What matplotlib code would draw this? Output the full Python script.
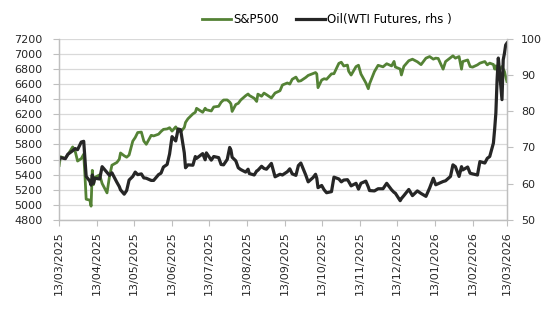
import pandas as pd
import matplotlib
matplotlib.use('Agg')
import matplotlib.pyplot as plt
import matplotlib.dates as mdates

# S&P500 (lhs) and WTI oil futures (rhs)
dates = ['2025-03-13', '2025-03-14', '2025-03-18', '2025-03-20', '2025-03-24', '2025-03-26',
         '2025-03-28', '2025-03-31', '2025-04-02', '2025-04-03', '2025-04-04', '2025-04-07',
         '2025-04-08', '2025-04-09', '2025-04-10', '2025-04-11', '2025-04-15', '2025-04-17',
         '2025-04-21', '2025-04-23', '2025-04-25', '2025-04-29', '2025-05-01', '2025-05-02',
         '2025-05-05', '2025-05-07', '2025-05-09', '2025-05-12', '2025-05-14', '2025-05-16',
         '2025-05-19', '2025-05-21', '2025-05-23', '2025-05-27', '2025-05-29', '2025-06-02',
         '2025-06-04', '2025-06-06', '2025-06-09', '2025-06-11', '2025-06-13', '2025-06-16',
         '2025-06-18', '2025-06-20', '2025-06-23', '2025-06-24', '2025-06-26', '2025-06-30',
         '2025-07-02', '2025-07-03', '2025-07-08', '2025-07-10', '2025-07-11', '2025-07-15',
         '2025-07-17', '2025-07-21', '2025-07-23', '2025-07-25', '2025-07-28', '2025-07-30',
         '2025-07-31', '2025-08-01', '2025-08-04', '2025-08-06', '2025-08-08', '2025-08-12',
         '2025-08-14', '2025-08-15', '2025-08-19', '2025-08-21', '2025-08-22', '2025-08-25',
         '2025-08-27', '2025-08-29', '2025-09-02', '2025-09-05', '2025-09-09', '2025-09-11',
         '2025-09-15', '2025-09-17', '2025-09-19', '2025-09-22', '2025-09-24', '2025-09-26',
         '2025-09-30', '2025-10-02', '2025-10-06', '2025-10-08', '2025-10-09', '2025-10-10',
         '2025-10-13', '2025-10-15', '2025-10-17', '2025-10-21', '2025-10-23', '2025-10-27',
         '2025-10-29', '2025-10-31', '2025-11-03', '2025-11-04', '2025-11-06', '2025-11-10',
         '2025-11-12', '2025-11-14', '2025-11-18', '2025-11-20', '2025-11-21', '2025-11-25',
         '2025-11-28', '2025-12-02', '2025-12-05', '2025-12-09', '2025-12-11', '2025-12-12',
         '2025-12-16', '2025-12-17', '2025-12-19', '2025-12-23', '2025-12-26', '2025-12-30',
         '2026-01-02', '2026-01-06', '2026-01-09', '2026-01-12', '2026-01-14', '2026-01-16',
         '2026-01-20', '2026-01-22', '2026-01-26', '2026-01-28', '2026-01-30', '2026-02-02',
         '2026-02-04', '2026-02-05', '2026-02-09', '2026-02-11', '2026-02-13', '2026-02-17',
         '2026-02-19', '2026-02-23', '2026-02-25', '2026-02-27', '2026-03-02', '2026-03-03',
         '2026-03-04', '2026-03-05', '2026-03-06', '2026-03-09', '2026-03-10', '2026-03-11',
         '2026-03-12', '2026-03-13']

spx = [5521, 5638, 5614, 5662, 5767, 5712,
       5580, 5612, 5671, 5396, 5074, 5062,
       4982, 5457, 5268, 5363, 5397, 5283,
       5158, 5376, 5525, 5561, 5604, 5687,
       5650, 5631, 5660, 5844, 5892, 5958,
       5964, 5845, 5802, 5921, 5913, 5936,
       5971, 6000, 6006, 6022, 5977, 6033,
       5981, 5967, 6025, 6092, 6141, 6205,
       6227, 6279, 6226, 6280, 6260, 6244,
       6297, 6306, 6359, 6389, 6390, 6362,
       6339, 6238, 6330, 6345, 6389, 6446,
       6469, 6450, 6412, 6370, 6467, 6439,
       6481, 6460, 6416, 6482, 6512, 6588,
       6615, 6600, 6664, 6693, 6638, 6644,
       6688, 6715, 6740, 6753, 6735, 6553,
       6654, 6671, 6664, 6736, 6738, 6875,
       6890, 6840, 6852, 6771, 6720, 6832,
       6850, 6734, 6617, 6539, 6603, 6766,
       6849, 6829, 6870, 6841, 6901, 6827,
       6800, 6721, 6835, 6910, 6930, 6896,
       6858, 6944, 6965, 6931, 6944, 6940,
       6798, 6899, 6950, 6975, 6944, 6965,
       6798, 6899, 6920, 6833, 6825, 6855,
       6878, 6899, 6855, 6878, 6860, 6800,
       6842, 6780, 6767, 6833, 6800, 6767,
       6700, 6634]

oil = [66.6, 67.2, 66.9, 68.1, 69.1, 69.7,
       69.4, 71.5, 71.7, 67.0, 62.0, 60.7,
       59.6, 62.4, 60.1, 61.5, 61.3, 64.7,
       63.1, 62.3, 63.0, 60.4, 59.2, 58.3,
       57.1, 58.1, 61.0, 62.0, 63.2, 62.5,
       62.7, 61.6, 61.5, 60.9, 60.9, 62.5,
       62.9, 64.6, 65.3, 68.2, 73.0, 71.8,
       75.1, 74.9, 68.5, 64.4, 65.2, 65.1,
       67.5, 67.0, 68.3, 66.6, 68.5, 66.5,
       67.5, 67.2, 65.3, 65.2, 66.7, 70.0,
       69.3, 67.3, 66.3, 64.4, 63.9, 63.2,
       64.0, 62.8, 62.4, 63.5, 63.7, 64.8,
       64.2, 64.0, 65.6, 61.9, 62.6, 62.4,
       63.3, 64.1, 62.7, 62.3, 65.0, 65.7,
       62.4, 60.5, 61.7, 62.6, 61.5, 58.9,
       59.5, 58.3, 57.5, 57.8, 61.8, 61.3,
       60.5, 61.0, 61.1, 60.6, 59.4, 60.1,
       58.5, 60.1, 60.7, 59.1, 58.1, 58.0,
       58.6, 58.6, 60.1, 58.3, 57.6, 57.4,
       55.3, 55.9, 56.7, 58.4, 56.7, 58.0,
       57.3, 56.5, 58.8, 61.5, 59.7, 60.0,
       60.6, 60.8, 62.0, 65.2, 64.7, 62.0,
       64.7, 63.8, 64.6, 62.9, 62.7, 62.4,
       66.1, 65.7, 67.0, 67.5, 71.2, 75.0,
       79.5, 88.7, 94.7, 83.2, 94.2, 96.0,
       98.3, 98.8]

legend_labels = ['S&P500', 'Oil(WTI Futures, rhs )']

dates = pd.to_datetime(dates)
green = '#548235'
black = '#262626'
grid_c = '#d9d9d9'
axis_c = '#bfbfbf'

plt.rcParams['font.family'] = 'DejaVu Sans'
plt.rcParams['font.size'] = 8

fig = plt.figure(figsize=(5.48, 3.21), dpi=100)
ax = fig.add_axes([0.108, 0.315, 0.817, 0.564])
ax2 = ax.twinx()

l1, = ax.plot(dates, spx, color=green, lw=2.0, label=legend_labels[0])
l2, = ax2.plot(dates, oil, color=black, lw=2.3, label=legend_labels[1])

ax.set_ylim(4800, 7200)
ax.set_yticks(range(4800, 7201, 200))
ax2.set_ylim(50, 100)
ax2.set_yticks(range(50, 101, 10))

ax.set_xlim(pd.Timestamp('2025-03-13'), pd.Timestamp('2026-03-13'))
ax.xaxis.set_major_locator(mdates.MonthLocator(bymonthday=13))
ax.xaxis.set_major_formatter(mdates.DateFormatter('%d/%m/%Y'))
for lab in ax.get_xticklabels():
    lab.set_rotation(90)

ax.grid(axis='y', color=grid_c, lw=0.9)
ax.set_axisbelow(True)

for a in (ax, ax2):
    a.spines['top'].set_visible(False)
    for s in ('left', 'right', 'bottom'):
        a.spines[s].set_color(axis_c)
        a.spines[s].set_linewidth(0.9)

ax.tick_params(axis='y', length=4, color=axis_c, pad=8, labelcolor='#262626')
ax.tick_params(axis='x', length=4, color=axis_c, pad=4, labelcolor='#262626')
ax2.tick_params(axis='y', length=4, color=axis_c, pad=6, labelcolor='#262626')

fig.legend(handles=[l1, l2], loc='center', bbox_to_anchor=(0.597, 0.938), ncol=2,
           frameon=False, handlelength=2.4, handletextpad=0.2, columnspacing=1.5,
           fontsize=8.5)

fig.savefig('out.png', dpi=100)
